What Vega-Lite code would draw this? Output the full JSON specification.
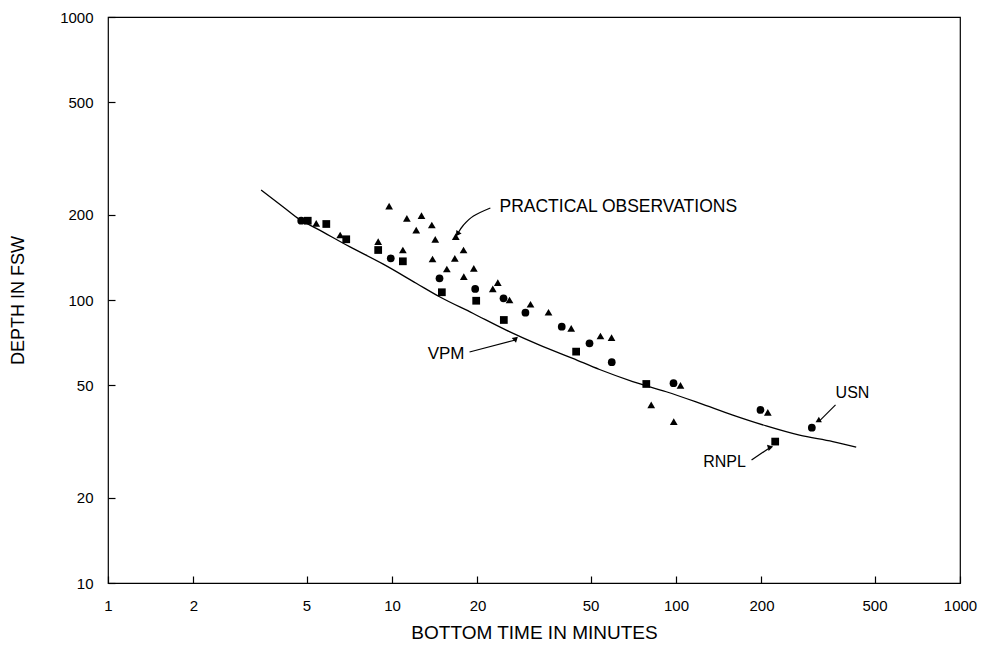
{
  "$schema": "https://vega.github.io/schema/vega-lite/v6.json",
  "width": 852,
  "height": 566,
  "autosize": {"type": "none"},
  "padding": {"left": 108, "top": 17, "right": 21, "bottom": 63},
  "background": "white",
  "config": {
    "view": {"stroke": "black", "strokeWidth": 1.2},
    "axis": {
      "labelColor": "black", "titleColor": "black",
      "labelFont": "Liberation Sans", "titleFont": "Liberation Sans",
      "labelFontSize": 15, "titleFontSize": 18, "titleFontWeight": "normal",
      "grid": false
    }
  },
  "datasets": {
    "curve": [
      {"t": 3.46, "d": 244.8}, {"t": 4.13, "d": 213.6}, {"t": 4.72, "d": 192.8}, {"t": 5.41, "d": 179.2},
      {"t": 7.09, "d": 154.3}, {"t": 9.28, "d": 134.1}, {"t": 12.17, "d": 114.6}, {"t": 14.70, "d": 102.7},
      {"t": 19.25, "d": 89.8}, {"t": 25.24, "d": 78.3}, {"t": 33.1, "d": 69.3}, {"t": 43.3, "d": 62.2},
      {"t": 53.8, "d": 56.8}, {"t": 70.4, "d": 51.5}, {"t": 92.4, "d": 47.4}, {"t": 121.0, "d": 43.2},
      {"t": 158.5, "d": 39.2}, {"t": 207.8, "d": 35.9}, {"t": 272.2, "d": 33.3}, {"t": 356.5, "d": 31.6},
      {"t": 431.0, "d": 30.2}
    ],
    "obs": [
      {"s": "USN", "t": 4.79, "d": 190.6}, {"s": "USN", "t": 9.90, "d": 140.4}, {"s": "USN", "t": 14.70, "d": 119.3},
      {"s": "USN", "t": 19.63, "d": 109.4}, {"s": "USN", "t": 24.70, "d": 101.4}, {"s": "USN", "t": 29.5, "d": 90.2},
      {"s": "USN", "t": 39.6, "d": 80.5}, {"s": "USN", "t": 49.6, "d": 70.3}, {"s": "USN", "t": 59.4, "d": 60.3},
      {"s": "USN", "t": 98.0, "d": 50.8}, {"s": "USN", "t": 198.4, "d": 40.9}, {"s": "USN", "t": 300.8, "d": 35.4},
      {"s": "RNPL", "t": 5.05, "d": 190.6}, {"s": "RNPL", "t": 5.87, "d": 185.6}, {"s": "RNPL", "t": 6.90, "d": 163.9},
      {"s": "RNPL", "t": 8.94, "d": 150.2}, {"s": "RNPL", "t": 10.92, "d": 137.0}, {"s": "RNPL", "t": 14.98, "d": 106.5},
      {"s": "RNPL", "t": 19.79, "d": 99.4}, {"s": "RNPL", "t": 24.76, "d": 85.0}, {"s": "RNPL", "t": 44.5, "d": 65.7},
      {"s": "RNPL", "t": 78.6, "d": 50.5}, {"s": "RNPL", "t": 223.5, "d": 31.6},
      {"s": "Practical", "t": 5.41, "d": 186.6}, {"s": "Practical", "t": 6.57, "d": 169.7}, {"s": "Practical", "t": 8.94, "d": 160.7},
      {"s": "Practical", "t": 10.92, "d": 150.2}, {"s": "Practical", "t": 9.77, "d": 214.8}, {"s": "Practical", "t": 11.28, "d": 194.4},
      {"s": "Practical", "t": 12.70, "d": 198.6}, {"s": "Practical", "t": 12.17, "d": 176.7}, {"s": "Practical", "t": 13.81, "d": 184.1},
      {"s": "Practical", "t": 14.20, "d": 163.9}, {"s": "Practical", "t": 16.77, "d": 167.4}, {"s": "Practical", "t": 17.86, "d": 150.2},
      {"s": "Practical", "t": 13.89, "d": 139.6}, {"s": "Practical", "t": 16.64, "d": 140.4}, {"s": "Practical", "t": 15.60, "d": 128.7},
      {"s": "Practical", "t": 19.41, "d": 129.4}, {"s": "Practical", "t": 17.90, "d": 120.9}, {"s": "Practical", "t": 22.64, "d": 109.4},
      {"s": "Practical", "t": 23.58, "d": 115.1}, {"s": "Practical", "t": 25.93, "d": 100.0}, {"s": "Practical", "t": 30.74, "d": 96.6},
      {"s": "Practical", "t": 35.57, "d": 90.5}, {"s": "Practical", "t": 42.76, "d": 79.4}, {"s": "Practical", "t": 54.2, "d": 74.6},
      {"s": "Practical", "t": 59.3, "d": 73.6}, {"s": "Practical", "t": 103.7, "d": 49.9}, {"s": "Practical", "t": 81.8, "d": 42.6},
      {"s": "Practical", "t": 98.2, "d": 37.2}, {"s": "Practical", "t": 210.5, "d": 40.1}
    ],
    "arrows": [
      {"a": "PO", "k": 1, "t": 22.2, "d": 211.4}, {"a": "PO", "k": 2, "t": 19.36, "d": 198.1},
      {"a": "PO", "k": 3, "t": 17.86, "d": 184.1}, {"a": "PO", "k": 4, "t": 17.0, "d": 171.1},
      {"a": "VPM", "k": 1, "t": 18.75, "d": 65.5}, {"a": "VPM", "k": 2, "t": 27.2, "d": 72.2},
      {"a": "USN", "k": 1, "t": 364.5, "d": 42.6}, {"a": "USN", "k": 2, "t": 320.2, "d": 37.4},
      {"a": "RNPL", "k": 1, "t": 184.5, "d": 27.2}, {"a": "RNPL", "k": 2, "t": 215.1, "d": 30.2}
    ],
    "heads": [
      {"a": "PO", "t": 17.0, "d": 171.1}, {"a": "VPM", "t": 27.2, "d": 72.2},
      {"a": "USN", "t": 320.2, "d": 37.4}, {"a": "RNPL", "t": 215.1, "d": 30.2}
    ],
    "labels": [
      {"a": "PO", "text": "PRACTICAL OBSERVATIONS", "t": 23.9, "d": 213.1, "pos": "left"},
      {"a": "VPM", "text": "VPM", "t": 18.0, "d": 64.4, "pos": "right"},
      {"a": "USN", "text": "USN", "t": 418.3, "d": 46.9, "pos": "center"},
      {"a": "RNPL", "text": "RNPL", "t": 148.2, "d": 26.8, "pos": "center"}
    ]
  },
  "encoding": {
    "x": {"field": "t", "type": "quantitative",
      "scale": {"type": "log", "domain": [1, 1000], "nice": false},
      "axis": {"orient": "bottom", "title": "BOTTOM TIME IN MINUTES", "titleFontSize": 19,
        "values": [1, 2, 5, 10, 20, 50, 100, 200, 500, 1000], "format": "d",
        "domain": false, "ticks": true, "tickSize": 7, "offset": -7, "tickColor": "black", "tickWidth": 1.2,
        "labelPadding": 15, "titlePadding": 10, "labelFlush": false}},
    "y": {"field": "d", "type": "quantitative",
      "scale": {"type": "log", "domain": [10, 1000], "nice": false},
      "axis": {"orient": "left", "title": "DEPTH IN FSW",
        "values": [10, 20, 50, 100, 200, 500, 1000], "format": "d",
        "domain": false, "ticks": true, "tickSize": 7, "offset": -7, "tickColor": "black", "tickWidth": 1.2,
        "labelPadding": 15, "titlePadding": 32, "labelFlush": false}}
  },
  "layer": [
    {
      "data": {"name": "curve"},
      "mark": {"type": "line", "color": "black", "strokeWidth": 1.3, "interpolate": "monotone"}
    },
    {
      "data": {"name": "obs"},
      "mark": {"type": "point", "filled": true, "color": "black", "opacity": 1, "size": 60},
      "encoding": {
        "shape": {"field": "s", "type": "nominal",
          "scale": {"domain": ["USN", "RNPL", "Practical"], "range": ["circle", "square", "triangle-up"]},
          "legend": null}
      }
    },
    {
      "data": {"name": "arrows"},
      "mark": {"type": "line", "color": "black", "strokeWidth": 1.2, "interpolate": "cardinal"},
      "encoding": {
        "detail": {"field": "a", "type": "nominal"},
        "order": {"field": "k", "type": "quantitative"}
      }
    },
    {
      "data": {"name": "heads"},
      "mark": {"type": "point", "shape": "triangle-up", "filled": true, "color": "black", "opacity": 1, "size": 40},
      "encoding": {
        "angle": {"field": "a", "type": "nominal",
          "scale": {"domain": ["PO", "VPM", "USN", "RNPL"], "range": [214, 75, 225, 56]}, "legend": null}
      }
    },
    {
      "data": {"name": "labels"},
      "transform": [{"filter": "datum.pos === 'left'"}],
      "mark": {"type": "text", "align": "left", "baseline": "middle", "font": "Liberation Sans", "fontSize": 17.5, "color": "black"},
      "encoding": {"text": {"field": "text"}}
    },
    {
      "data": {"name": "labels"},
      "transform": [{"filter": "datum.pos === 'right'"}],
      "mark": {"type": "text", "align": "right", "baseline": "middle", "font": "Liberation Sans", "fontSize": 17, "color": "black"},
      "encoding": {"text": {"field": "text"}}
    },
    {
      "data": {"name": "labels"},
      "transform": [{"filter": "datum.pos === 'center'"}],
      "mark": {"type": "text", "align": "center", "baseline": "middle", "font": "Liberation Sans", "fontSize": 16, "color": "black"},
      "encoding": {"text": {"field": "text"}}
    }
  ]
}
